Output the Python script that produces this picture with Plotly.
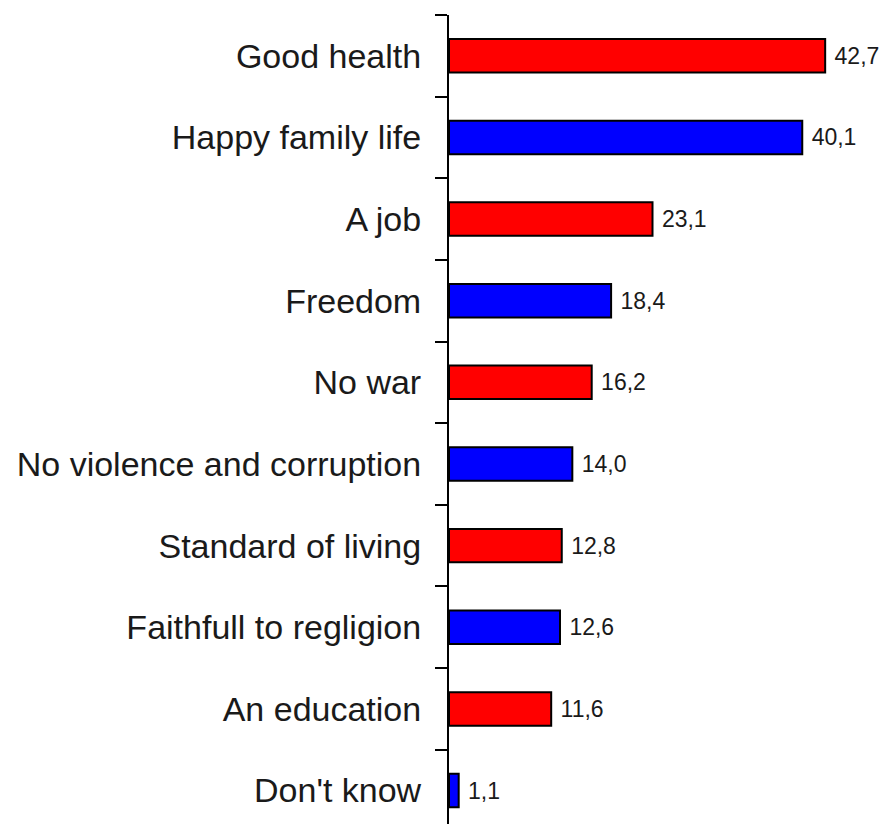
import plotly.graph_objects as go

categories = ["Good health", "Happy family life", "A job", "Freedom", "No war",
              "No violence and corruption", "Standard of living",
              "Faithfull to regligion", "An education", "Don't know"]
values = [42.7, 40.1, 23.1, 18.4, 16.2, 14.0, 12.8, 12.6, 11.6, 1.1]

bar_colors = ["#ff0000" if i % 2 == 0 else "#0000ff" for i in range(len(categories))]

fig = go.Figure(go.Bar(
    x=values,
    y=categories,
    orientation="h",
    width=0.41,
    marker=dict(color=bar_colors, line=dict(color="#000000", width=2)),
    texttemplate=" %{x:.1f}",
    textposition="outside",
    textfont=dict(family="Liberation Sans, Arial, sans-serif", size=23, color="#1a1a1a"),
    cliponaxis=False,
))

fig.update_layout(
    width=885, height=816,
    margin=dict(l=441, r=0, t=7, b=0, pad=0),
    plot_bgcolor="#ffffff", paper_bgcolor="#ffffff",
    separators=",.",
    showlegend=False,
    font=dict(family="Liberation Sans, Arial, sans-serif", color="#1a1a1a"),
    xaxis=dict(visible=False, range=[0, 50.4], fixedrange=True),
    yaxis=dict(
        type="category",
        categoryorder="array", categoryarray=categories,
        range=[9.41, -0.5],
        showline=True, linecolor="#000000", linewidth=2,
        ticks="outside", tickson="boundaries", ticklen=12, tickwidth=2, tickcolor="#000000",
        ticklabelstandoff=19,
        tickfont=dict(family="Liberation Sans, Arial, sans-serif", size=34, color="#1a1a1a"),
        showgrid=False, zeroline=False,
    ),
)

fig.write_html("out.html")
